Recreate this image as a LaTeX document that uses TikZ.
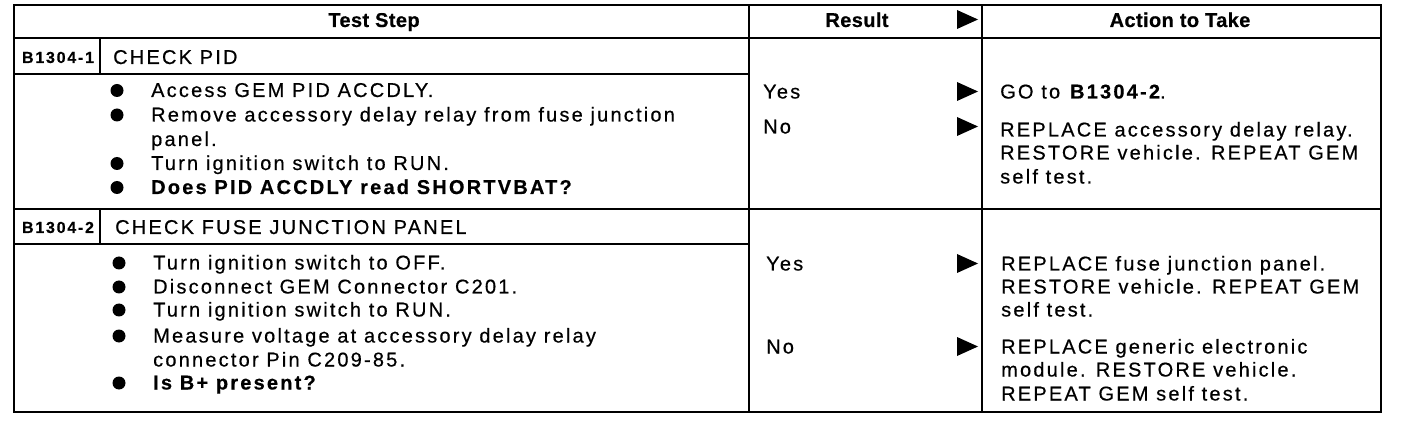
\documentclass[tikz,border=0pt]{standalone}
\usepackage{fontspec}
\setmainfont{Liberation Sans}[LetterSpace=11,FakeBold=0.5]
\newfontfamily\hf{Liberation Sans}[LetterSpace=2,FakeBold=0.5]
\newcommand\fs{\fontsize{20}{23}\selectfont}
\newcommand\fh{\hf\fontsize{20}{23}\selectfont\bfseries}
\newcommand\fl{\fontsize{16}{18}\selectfont\bfseries}
\begin{document}
\begin{tikzpicture}[x=1pt,y=-1pt,
  txt/.style={anchor=base west, inner sep=0pt, font=\fs},
  hdr/.style={anchor=base, inner sep=0pt, font=\fh},
  lbl/.style={anchor=base, inner sep=0pt, font=\fl},
  rule/.style={line width=1.8pt, black},
  thin/.style={line width=1.3pt, black},
  bul/.style={circle, fill=black, inner sep=0pt, minimum size=13pt},
  tri/.style={fill=black}]
\fill[white] (0,0) rectangle (1408,438);
\useasboundingbox (0,0) rectangle (1408,438);
% outer frame and grid
\draw[rule] (14,5) rectangle (1381,412);
\draw[rule] (14,38) -- (1381,38);
\draw[rule] (749,5) -- (749,412);
\draw[rule] (982,5) -- (982,412);
\draw[rule] (14,209) -- (1381,209);
\draw[thin] (14,74) -- (749,74);
\draw[thin] (14,244) -- (749,244);
\draw[thin] (100,38) -- (100,74);
\draw[thin] (100,209) -- (100,244);
% headers
\node[hdr] (hts) at (374,27) {Test Step};
\node[hdr] (hrs) at (857,27) {Result};
\node[hdr] (hat) at (1180,27) {Action to Take};
\fill[tri] (957,10) -- (978,19.5) -- (957,29) -- cycle;
% row 1
\node[lbl] (l1) at (58,63) {B1304-1};
\node[txt] (c1) at (113,64) {CHECK PID};
\foreach \yy in {97,121.5,170,194} \node[bul] at (117,\yy-6.5) {};
\node[txt] (a1) at (151,97) {Access GEM PID ACCDLY.};
\node[txt] (a2) at (151,121.5) {Remove accessory delay relay from fuse junction};
\node[txt] (a3) at (151,146) {panel.};
\node[txt] (a4) at (151,170) {Turn ignition switch to RUN.};
\node[txt] (a5) at (151,194) {\bfseries Does PID ACCDLY read SHORTVBAT?};
\node[txt] (y1) at (763,98.5) {Yes};
\node[txt] (n1) at (763,133.5) {No};
\fill[tri] (957,82) -- (978,91.5) -- (957,101) -- cycle;
\fill[tri] (957,117) -- (978,126.5) -- (957,136) -- cycle;
\node[txt] (r1) at (1000,98.5) {GO to \textbf{B1304-2}.};
\node[txt] (r2) at (1000,136.5) {REPLACE accessory delay relay.};
\node[txt] (r3) at (1000,159.5) {RESTORE vehicle. REPEAT GEM};
\node[txt] (r4) at (1000,183.5) {self test.};
% row 2
\node[lbl] (l2) at (58,233) {B1304-2};
\node[txt] (c2) at (115,234) {CHECK FUSE JUNCTION PANEL};
\foreach \yy in {269.5,293.5,316.5,342.5,389.5} \node[bul] at (119,\yy-6.5) {};
\node[txt] (b1) at (153,269.5) {Turn ignition switch to OFF.};
\node[txt] (b2) at (153,293.5) {Disconnect GEM Connector C201.};
\node[txt] (b3) at (153,316.5) {Turn ignition switch to RUN.};
\node[txt] (b4) at (153,342.5) {Measure voltage at accessory delay relay};
\node[txt] (b5) at (153,366.5) {connector Pin C209-85.};
\node[txt] (b6) at (153,389.5) {\bfseries Is B+ present?};
\node[txt] (y2) at (766,270.5) {Yes};
\node[txt] (n2) at (766,353.5) {No};
\fill[tri] (957,254) -- (978,263.5) -- (957,273) -- cycle;
\fill[tri] (957,337) -- (978,346.5) -- (957,356) -- cycle;
\node[txt] (s1) at (1001,270.5) {REPLACE fuse junction panel.};
\node[txt] (s2) at (1001,293.5) {RESTORE vehicle. REPEAT GEM};
\node[txt] (s3) at (1001,316.5) {self test.};
\node[txt] (s4) at (1001,353.5) {REPLACE generic electronic};
\node[txt] (s5) at (1001,376.5) {module. RESTORE vehicle.};
\node[txt] (s6) at (1001,400.5) {REPEAT GEM self test.};
\end{tikzpicture}
\end{document}
